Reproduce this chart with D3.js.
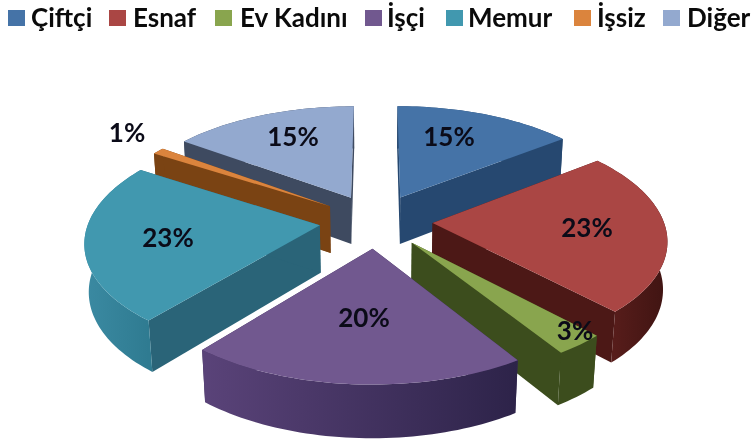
<!DOCTYPE html>
<html><head><meta charset="utf-8">
<script src="https://cdn.jsdelivr.net/npm/d3@7/dist/d3.min.js"></script>
<style>html,body{margin:0;padding:0;background:#fff}svg{display:block;filter:blur(0.45px)}text{font-family:Lato,"Open Sans",sans-serif}</style>
</head><body><svg id="c" width="755" height="439"></svg>
<script>
const categories=["Çiftçi","Esnaf","Ev Kadını","İşçi","Memur","İşsiz","Diğer"];
const values=[14.5,23.4,3,20,23,1,15];
const labels=["15%","23%","3%","20%","23%","1%","15%"];
const topColors=["#4573a7","#aa4644","#89a54e","#71588f","#4198af","#db843d","#93a9cf"];
const wallColors=["#264870","#4c1816","#3c4d1d","#382a55","#2a6478","#7a4313","#3e4a60"];
const rimLeft=["#264870","#5e1f1d","#3c4d1d","#5a4379","#3b8aa2","#7a4313","#3e4a60"];
const rimRight=["#264870","#3f1412","#3c4d1d","#2d2349","#2f7b91","#7a4313","#3e4a60"];
const labelX=[449,587,575,364,168,127,293];
const labelY=[137,228,331,318,238,133,137];
const legendSwatchX=[8,109,215,365,446,574,663];
const legendTextX=[31,133,240,387,468,597,687];
const drawOrder=[6,0,5,4,1,2,3];

const cx=376,cy=221,R=231,Ry=109.5,p=0.134,q=0.015,depth=48,explode=0.245;
const svg=d3.select("#c"),defs=svg.append("defs");
const proj=(X,Y,Z)=>{const s=1/(1-p*Y+q*Z);return [cx+R*X*s,cy+(Ry*Y+depth*Z)*s];};
const line=d3.line();
const arcs=d3.pie().sort(null)(values);

drawOrder.forEach(i=>{
  const a=arcs[i],mid=(a.startAngle+a.endAngle)/2;
  const ox=explode*Math.sin(mid),oy=-explode*Math.cos(mid);
  const n=Math.max(4,Math.ceil((a.endAngle-a.startAngle)*40));
  const angles=d3.range(n+1).map(k=>a.startAngle+(a.endAngle-a.startAngle)*k/n);
  const rimPt=(t,Z)=>proj(ox+Math.sin(t),oy-Math.cos(t),Z);
  const top=angles.map(t=>rimPt(t,0)),bottom=angles.map(t=>rimPt(t,1));
  const apex0=proj(ox,oy,0),apex1=proj(ox,oy,1);
  const g=svg.append("g");
  const gid="rim"+i;
  const xs=top.map(d=>d[0]);
  const grad=defs.append("linearGradient").attr("id",gid).attr("gradientUnits","userSpaceOnUse")
    .attr("x1",d3.min(xs)).attr("x2",d3.max(xs)).attr("y1",0).attr("y2",0);
  grad.append("stop").attr("offset",0).attr("stop-color",rimLeft[i]);
  grad.append("stop").attr("offset",1).attr("stop-color",rimRight[i]);
  const wall=(t)=>line([apex0,rimPt(t,0),rimPt(t,1),apex1])+"Z";
  g.append("path").attr("d",wall(a.startAngle)).attr("fill",wallColors[i]);
  g.append("path").attr("d",wall(a.endAngle)).attr("fill",wallColors[i]);
  g.append("path").attr("d",line(top.concat(bottom.slice().reverse()))+"Z").attr("fill",`url(#${gid})`);
  g.append("path").attr("d",line([apex0].concat(top))+"Z").attr("fill",topColors[i]);
});

labels.forEach((t,i)=>svg.append("text").attr("x",labelX[i]).attr("y",labelY[i]).attr("dy","0.35em")
  .attr("text-anchor","middle").attr("font-size",26).attr("font-weight",700).attr("fill","#0b0b18").text(t));

categories.forEach((c,i)=>{
  svg.append("rect").attr("x",legendSwatchX[i]).attr("y",10).attr("width",17).attr("height",16).attr("fill",topColors[i]);
  svg.append("text").attr("x",legendTextX[i]).attr("y",27).attr("font-size",26).attr("font-weight",700).attr("fill","#0a0a0a").text(c);
});
</script></body></html>
